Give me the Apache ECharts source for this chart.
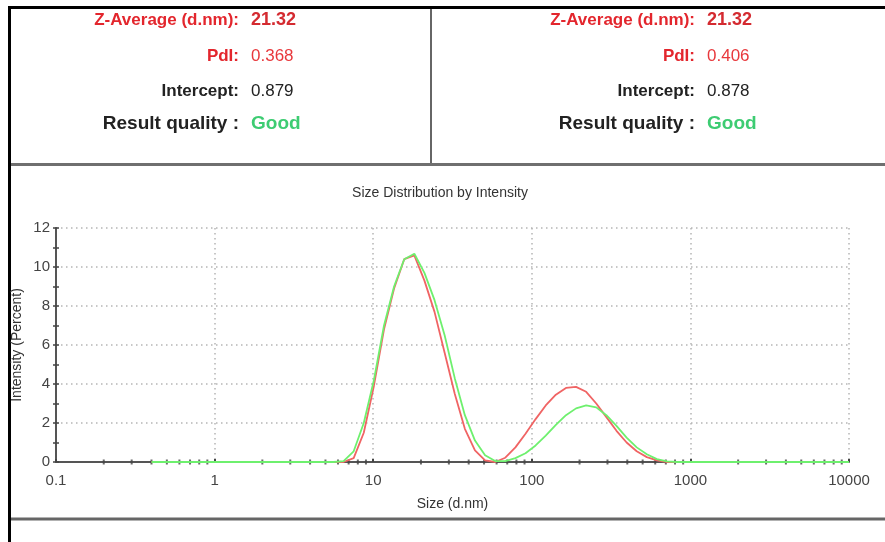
<!DOCTYPE html>
<html>
<head>
<meta charset="utf-8">
<script src="https://cdn.jsdelivr.net/npm/echarts@6/dist/echarts.min.js"></script>
<style>
html,body{margin:0;padding:0;background:#fff;}
#c{width:885px;height:542px;}
</style>
</head>
<body>
<div id="c"></div>
<script>
// Size bins (d.nm)
var sizes = [0.4,0.4632,0.5365,0.6213,0.7195,0.8332,0.9649,1.117,1.294,1.499,
  1.736,2.010,2.328,2.696,3.122,3.615,4.187,4.849,5.615,6.503,
  7.531,8.721,10.10,11.70,13.54,15.69,18.17,21.04,24.36,28.21,
  32.67,37.84,43.82,50.75,58.77,68.06,78.82,91.28,105.7,122.4,
  141.8,164.2,190.1,220.2,255.0,295.3,342.0,396.1,458.7,531.2,
  615.1,712.4,825.0,955.4,1106,1281,1484,1718,1990,2305,
  2669,3091,3580,4145,4801,5560,6439,7456,8635,10000];
// Intensity (%) - red record
var redValues = [0,0,0,0,0,0,0,0,0,0,
  0,0,0,0,0,0,0,0,0,0,
  0.2,1.5,3.9,6.8,8.9,10.4,10.6,9.3,7.7,5.6,
  3.5,1.7,0.6,0.08,0.0,0.22,0.75,1.45,2.2,2.9,
  3.45,3.8,3.85,3.6,3.0,2.3,1.6,1.0,0.55,0.25,
  0.08,0,0,0,0,0,0,0,0,0,
  0,0,0,0,0,0,0,0,0,0];
// Intensity (%) - green record
var greenValues = [0,0,0,0,0,0,0,0,0,0,
  0,0,0,0,0,0,0,0,0,0.05,
  0.55,2.0,4.2,7.0,9.0,10.4,10.68,9.7,8.3,6.5,
  4.3,2.4,1.1,0.35,0.05,0.05,0.2,0.45,0.85,1.35,
  1.9,2.4,2.75,2.9,2.8,2.4,1.85,1.25,0.75,0.4,
  0.15,0.03,0,0,0,0,0,0,0,0,
  0,0,0,0,0,0,0,0,0,0];
// Axis tick labels / minor tick values
var xTickLabels = ['0.1','1','10','100','1000','10000'];
var xMinorTicks = [];
[0.1,1,10,100,1000].forEach(function(d){ for (var k=2;k<=9;k++) xMinorTicks.push(+(d*k).toPrecision(3)); });

var leftInfo = {z:'21.32', pdi:'0.368', intercept:'0.879', quality:'Good'};
var rightInfo = {z:'21.32', pdi:'0.406', intercept:'0.878', quality:'Good'};

function pairs(vals){ return sizes.map(function(s,i){ return [s, vals[i]]; }); }

var RED='#e3262d', GREEN='#3dcc72';
var FF='"Liberation Sans", Arial, sans-serif';
function infoTexts(xEnd, info){
  var rows = [
    {label:'Z-Average (d.nm):', val:info.z, y:20, lc:RED, vc:'#d42a30', vw:'bold', fs:17, vfs:18},
    {label:'PdI:', val:info.pdi, y:56, lc:RED, vc:'#e8383c', vw:'normal', fs:17, vfs:17},
    {label:'Intercept:', val:info.intercept, y:91, lc:'#222', vc:'#222', vw:'normal', fs:17, vfs:17},
    {label:'Result quality :', val:info.quality, y:124, lc:'#222', vc:GREEN, vw:'bold', fs:19, vfs:19}
  ];
  var out=[];
  rows.forEach(function(r){
    out.push({type:'text', x:xEnd, y:r.y, style:{text:r.label, fill:r.lc, font:'bold '+r.fs+'px '+FF, textAlign:'right', textVerticalAlign:'middle'}});
    out.push({type:'text', x:xEnd+12, y:r.y, style:{text:r.val, fill:r.vc, font:r.vw+' '+r.vfs+'px '+FF, textAlign:'left', textVerticalAlign:'middle'}});
  });
  return out;
}

var chart = echarts.init(document.getElementById('c'), null, {renderer:'canvas'});
var graphics = [
  {type:'line', shape:{x1:9, y1:7.5, x2:885, y2:7.5}, style:{stroke:'#000', lineWidth:3}},
  {type:'line', shape:{x1:9.5, y1:6, x2:9.5, y2:542}, style:{stroke:'#000', lineWidth:3}},
  {type:'line', shape:{x1:431, y1:9, x2:431, y2:164}, style:{stroke:'#666', lineWidth:2}},
  {type:'line', shape:{x1:11, y1:164.5, x2:885, y2:164.5}, style:{stroke:'#6f6f6f', lineWidth:3}},
  {type:'line', shape:{x1:11, y1:519, x2:885, y2:519}, style:{stroke:'#666', lineWidth:3}}
].concat(infoTexts(239, leftInfo)).concat(infoTexts(695, rightInfo));

var yBase = {
  type:'value', min:0, max:12, interval:2
};

var option = {
  backgroundColor:'#fff',
  animation:false,
  title:{text:'Size Distribution by Intensity', left:435, top:181, textAlign:'center',
    textStyle:{fontSize:14, fontWeight:'normal', color:'#333', fontFamily:FF}},
  grid:{left:56, right:36, top:228, bottom:80, containLabel:false},
  xAxis:{
    type:'log', logBase:10, min:0.1, max:10000,
    name:'Size (d.nm)', nameLocation:'middle', nameGap:35, nameMoveOverlap:false,
    nameTextStyle:{fontSize:14, color:'#333', fontFamily:FF},
    axisLine:{show:true, onZero:false, lineStyle:{color:'#555', width:2}},
    axisTick:{show:true, length:3, inside:true, lineStyle:{color:'#444', width:2}},
    axisLabel:{margin:11, fontSize:15, color:'#444', fontFamily:FF,
      formatter:function(v){ var i=Math.round(Math.log10(v))+1; return xTickLabels[i]!==undefined?xTickLabels[i]:''; }},
    splitLine:{show:true, lineStyle:{color:'#b5b5b5', type:[1.5,3.5], width:1.5}},
    minorTick:{show:false}
  },
  yAxis:[
    Object.assign({}, yBase, {
      name:'Intensity (Percent)', nameLocation:'middle', nameGap:32, nameMoveOverlap:false,
      nameTextStyle:{fontSize:14, color:'#333', fontFamily:FF},
      axisLine:{show:true, lineStyle:{color:'#555', width:2}},
      axisTick:{show:true, length:3, lineStyle:{color:'#444', width:1.5}},
      minorTick:{show:true, splitNumber:2, length:3, lineStyle:{color:'#444', width:1.5}},
      axisLabel:{margin:6, fontSize:15, color:'#444', fontFamily:FF},
      splitLine:{show:true, lineStyle:{color:'#b5b5b5', type:[1.5,3.5], width:1.5}}
    }),
    Object.assign({}, yBase, {
      position:'left',
      axisLine:{show:false},
      axisTick:{show:true, inside:true, length:3, lineStyle:{color:'#444', width:1.5}},
      minorTick:{show:true, splitNumber:2, length:3, lineStyle:{color:'#444', width:1.5}},
      axisLabel:{show:false},
      splitLine:{show:false}
    })
  ],
  series:[
    {type:'scatter', data:xMinorTicks.map(function(v){return [v,0];}), symbol:'rect', symbolSize:[2,5],
      itemStyle:{color:'#444'}, silent:true, z:3},
    {type:'line', name:'Record A', data:pairs(redValues), showSymbol:false, smooth:false,
      lineStyle:{color:'#f06464', width:1.8}, z:4},
    {type:'line', name:'Record B', data:pairs(greenValues), showSymbol:false, smooth:false,
      lineStyle:{color:'#6ef06e', width:1.8}, z:5}
  ],
  graphic:graphics
};
chart.setOption(option);
</script>
</body>
</html>
